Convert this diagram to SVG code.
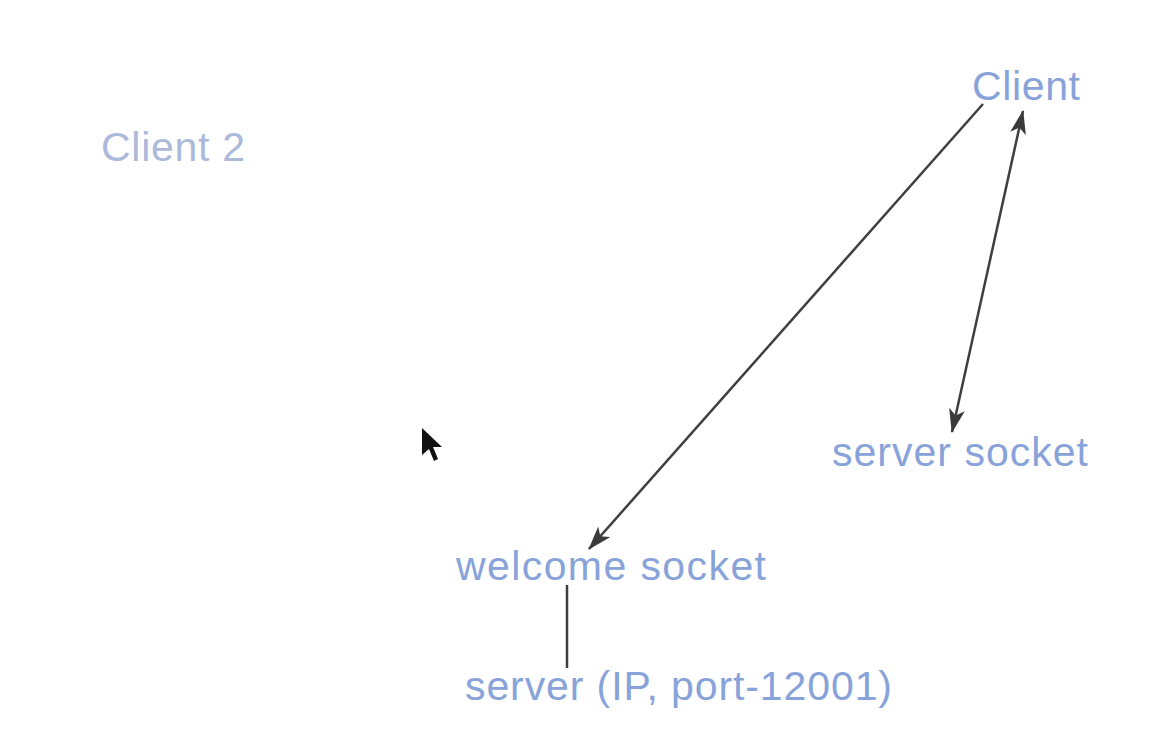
<svg xmlns="http://www.w3.org/2000/svg" width="1156" height="754" viewBox="0 0 1156 754">
  <style>
    .lbl { font-family: "Liberation Sans", Arial, sans-serif; font-size: 41px; fill: #88a3da; }
    .lbl.faint { fill: #acb9da; }
    .edge { stroke: #3f3f3f; stroke-width: 2.5; fill: none; }
  </style>
  <defs>
    <marker id="head" viewBox="0 0 24 16" refX="23" refY="8" markerWidth="24" markerHeight="16" markerUnits="userSpaceOnUse" orient="auto-start-reverse">
      <path d="M0,0 L24,8 L0,16 L6,8 Z" fill="#3a3a3a"/>
    </marker>
  </defs>
  <rect width="1156" height="754" fill="#ffffff"/>

  <g id="edges">
    <line class="edge" x1="983" y1="104" x2="589" y2="549" marker-end="url(#head)"/>
    <line class="edge" x1="1023" y1="111" x2="952" y2="432" marker-start="url(#head)" marker-end="url(#head)"/>
    <line class="edge" x1="567" y1="585" x2="567" y2="668"/>
  </g>

  <g id="client">
    <text class="lbl" x="972" y="100" textLength="108">Client</text>
  </g>
  <g id="client2">
    <text class="lbl faint" x="101" y="161" textLength="144">Client 2</text>
  </g>
  <g id="server-socket">
    <text class="lbl" x="832" y="466" textLength="256">server socket</text>
  </g>
  <g id="welcome-socket">
    <text class="lbl" x="456" y="580" textLength="310">welcome socket</text>
  </g>
  <g id="server">
    <text class="lbl" x="465" y="700" textLength="427">server (IP, port-12001)</text>
  </g>

  <!-- mouse pointer -->
  <g id="pointer">
    <path d="M422,428 L422,455 L429,449 L434,461 L438,459 L433,447 L442,447 Z" fill="#111"/>
  </g>
</svg>
